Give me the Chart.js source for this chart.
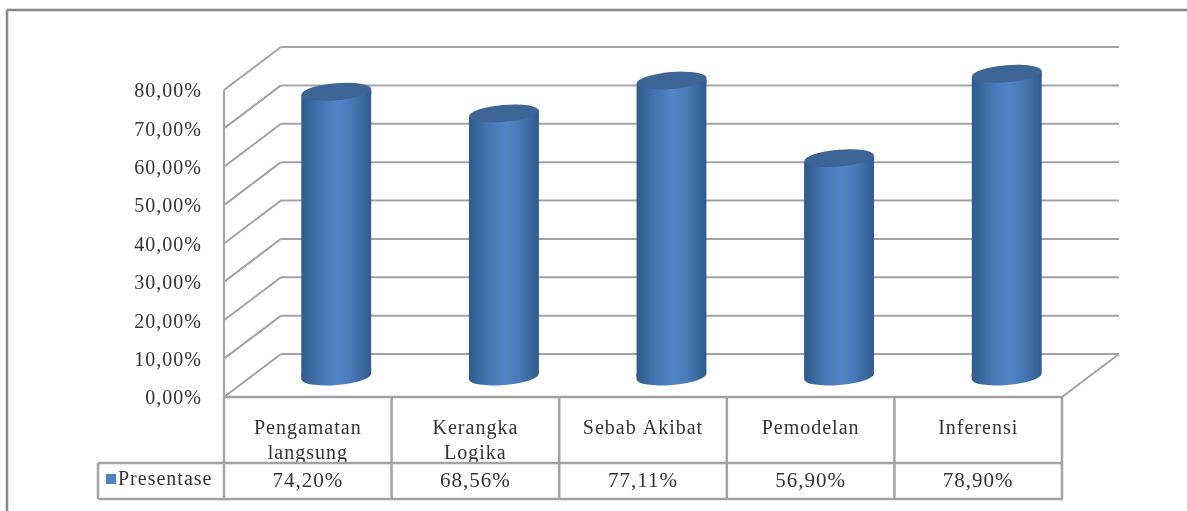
<!DOCTYPE html>
<html>
<head>
<meta charset="utf-8">
<title>Presentase</title>
<script src="https://cdn.jsdelivr.net/npm/chart.js@4"></script>
<style>
    html, body { margin: 0; padding: 0; background: #fff; overflow: hidden; }
    canvas { display: block; filter: blur(0.35px); }
</style>
</head>
<body>
<canvas id="grafik" width="1187" height="511"></canvas>
<script>
const categories = [['Pengamatan', 'langsung'], ['Kerangka', 'Logika'], ['Sebab Akibat'], ['Pemodelan'], ['Inferensi']];
const presentase = [74.20, 68.56, 77.11, 56.90, 78.90];
const seriesName = 'Presentase';

const FONT = '"Liberation Serif"';
const TEXT = '#333333';
const LINE = '#a3a3a3';
const FRAME = '#868686';
// depth of the 3D box and how far the cylinders sit inside it
const DEPTH_X = 57, DEPTH_Y = 43;
const BAR_X = 28.5, BAR_Y = 20.5;
const BAR_W = 70, RY = 8.5, TILT = -0.085, SKEW = 3;
const ROW1 = 463, ROW2 = 499, LEGEND_LEFT = 98;

function fmt(v) {
    return v.toFixed(2).replace('.', ',') + '%';
}

function line(ctx, x1, y1, x2, y2) {
    ctx.beginPath();
    ctx.moveTo(x1, y1);
    ctx.lineTo(x2, y2);
    ctx.stroke();
}

function bodyFill(ctx, x) {
    const g = ctx.createLinearGradient(x - BAR_W / 2, 0, x + BAR_W / 2, 0);
    g.addColorStop(0, '#2f5a8a');
    g.addColorStop(0.28, '#4576b2');
    g.addColorStop(0.52, '#5086c9');
    g.addColorStop(0.74, '#4778b4');
    g.addColorStop(1, '#315b8b');
    return g;
}

const box3d = {
    id: 'box3d',
    beforeDraw(chart) {
        const { ctx, scales: { x, y }, chartArea: a } = chart;
        ctx.letterSpacing = '1px';
        ctx.save();
        ctx.strokeStyle = FRAME;
        ctx.lineWidth = 2.5;
        line(ctx, 7, 10, 1187, 10);
        line(ctx, 7, 10, 7, 511);
        ctx.strokeStyle = LINE;
        ctx.lineWidth = 2;
        y.ticks.forEach(t => {
            const py = y.getPixelForValue(t.value);
            line(ctx, a.left, py, a.left + DEPTH_X, py - DEPTH_Y);
            line(ctx, a.left + DEPTH_X, py - DEPTH_Y, a.right + DEPTH_X, py - DEPTH_Y);
        });
        line(ctx, a.right, a.bottom, a.right + DEPTH_X, a.bottom - DEPTH_Y);
        line(ctx, a.left, a.top, a.left, a.bottom);
        ctx.restore();
    },
    beforeDatasetDraw(chart, args) {
        const { ctx } = chart;
        ctx.save();
        ctx.translate(BAR_X, -BAR_Y);
        // cut the bar ends along the tilted caps
        ctx.beginPath();
        args.meta.data.forEach(b => {
            b.options = { ...b.options, backgroundColor: bodyFill(ctx, b.x) };
            ctx.moveTo(b.x - BAR_W / 2, b.y + SKEW);
            ctx.lineTo(b.x + BAR_W / 2, b.y - SKEW);
            ctx.lineTo(b.x + BAR_W / 2, b.base - SKEW);
            ctx.lineTo(b.x - BAR_W / 2, b.base + SKEW);
            ctx.closePath();
        });
        ctx.clip();
    },
    afterDatasetDraw(chart, args) {
        const { ctx } = chart;
        ctx.restore();
        ctx.save();
        ctx.translate(BAR_X, -BAR_Y);
        args.meta.data.forEach(b => {
            const l = b.x - BAR_W / 2, r = b.x + BAR_W / 2;
            ctx.fillStyle = bodyFill(ctx, b.x);
            ctx.beginPath();
            ctx.ellipse(b.x, b.base, BAR_W / 2, RY, TILT, 0, Math.PI * 2);
            ctx.fill();
            // wedges the flat bar rectangle leaves open under the tilted caps
            ctx.beginPath();
            ctx.moveTo(l, b.y + SKEW);
            ctx.lineTo(r, b.y - SKEW);
            ctx.lineTo(r, b.y + SKEW);
            ctx.closePath();
            ctx.moveTo(l, b.base + SKEW);
            ctx.lineTo(r, b.base - SKEW);
            ctx.lineTo(l, b.base - SKEW);
            ctx.closePath();
            ctx.fill();
            ctx.fillStyle = '#3d6595';
            ctx.beginPath();
            ctx.ellipse(b.x, b.y, BAR_W / 2, RY, TILT, 0, Math.PI * 2);
            ctx.fill();
        });
        ctx.restore();
    },
    afterDraw(chart) {
        const { ctx, scales: { x }, chartArea: a } = chart;
        const step = x.getPixelForValue(1) - x.getPixelForValue(0);
        ctx.save();
        ctx.strokeStyle = LINE;
        ctx.lineWidth = 2.5;
        line(ctx, a.left, a.bottom, a.right, a.bottom);
        line(ctx, LEGEND_LEFT, ROW1, a.right + 1, ROW1);
        line(ctx, LEGEND_LEFT, ROW2, a.right + 1, ROW2);
        line(ctx, LEGEND_LEFT, ROW1, LEGEND_LEFT, ROW2);
        for (let i = 0; i <= categories.length; i++) {
            const px = a.left + step * i;
            line(ctx, px, a.bottom, px, ROW2);
        }
        ctx.font = '21px ' + FONT;
        ctx.fillStyle = TEXT;
        ctx.textBaseline = 'middle';
        ctx.textAlign = 'center';
        presentase.forEach((v, i) => {
            ctx.fillText(fmt(v), x.getPixelForValue(i), 481);
        });
        ctx.font = '20px ' + FONT;
        ctx.textAlign = 'left';
        ctx.fillText(seriesName, 118, 480);
        ctx.fillStyle = '#4f81bd';
        ctx.fillRect(106, 474, 10, 10);
        ctx.restore();
    }
};

new Chart(document.getElementById('grafik'), {
    type: 'bar',
    data: {
        labels: categories,
        datasets: [{
            label: seriesName,
            data: presentase,
            barThickness: BAR_W,
            backgroundColor: '#4f81bd'
        }]
    },
    options: {
        responsive: false,
        animation: false,
        layout: { padding: { top: 90, right: 125, left: 0, bottom: 0 } },
        plugins: { legend: { display: false }, tooltip: { enabled: false } },
        scales: {
            y: {
                min: 0,
                max: 80,
                afterFit: s => { s.width = 224; },
                border: { display: false },
                grid: { display: false, drawTicks: false },
                ticks: {
                    stepSize: 10,
                    padding: 22,
                    labelOffset: 2,
                    color: TEXT,
                    font: { family: FONT, size: 20 },
                    callback: v => fmt(v)
                }
            },
            x: {
                afterFit: s => { s.height = 114; },
                border: { display: false },
                grid: { display: false, drawTicks: false },
                ticks: {
                    padding: 19,
                    maxRotation: 0,
                    color: TEXT,
                    font: { family: FONT, size: 20, lineHeight: 1.25 }
                }
            }
        }
    },
    plugins: [box3d]
});
</script>
</body>
</html>
